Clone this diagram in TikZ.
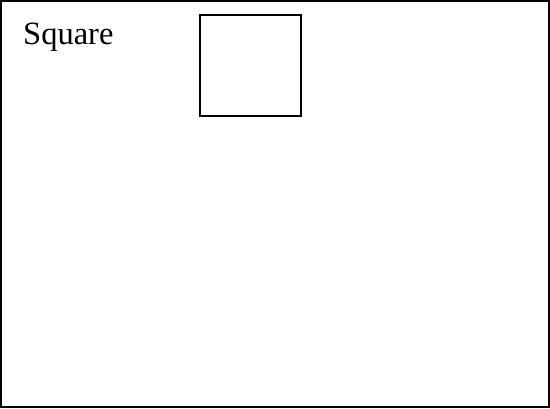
\documentclass[tikz,border=0pt]{standalone}
\usepackage{fontspec}
\setmainfont{Liberation Serif}
\begin{document}
\begin{tikzpicture}[x=1pt,y=-1pt,
  framebox/.style={draw=black,line width=1.3pt},
  sqbox/.style={draw=black,line width=2pt},
  label/.style={font=\fontsize{32.5}{38}\selectfont,inner sep=0pt,anchor=base west}]
\useasboundingbox (0,0) rectangle (550,408);
\draw[framebox] (1,1) rectangle (549,407);
\node[label] (t) at (23,44) {Square};
\node[sqbox,minimum width=101pt,minimum height=101pt,inner sep=0pt] (sq) at (250.5,65.5) {};
\end{tikzpicture}
\end{document}
